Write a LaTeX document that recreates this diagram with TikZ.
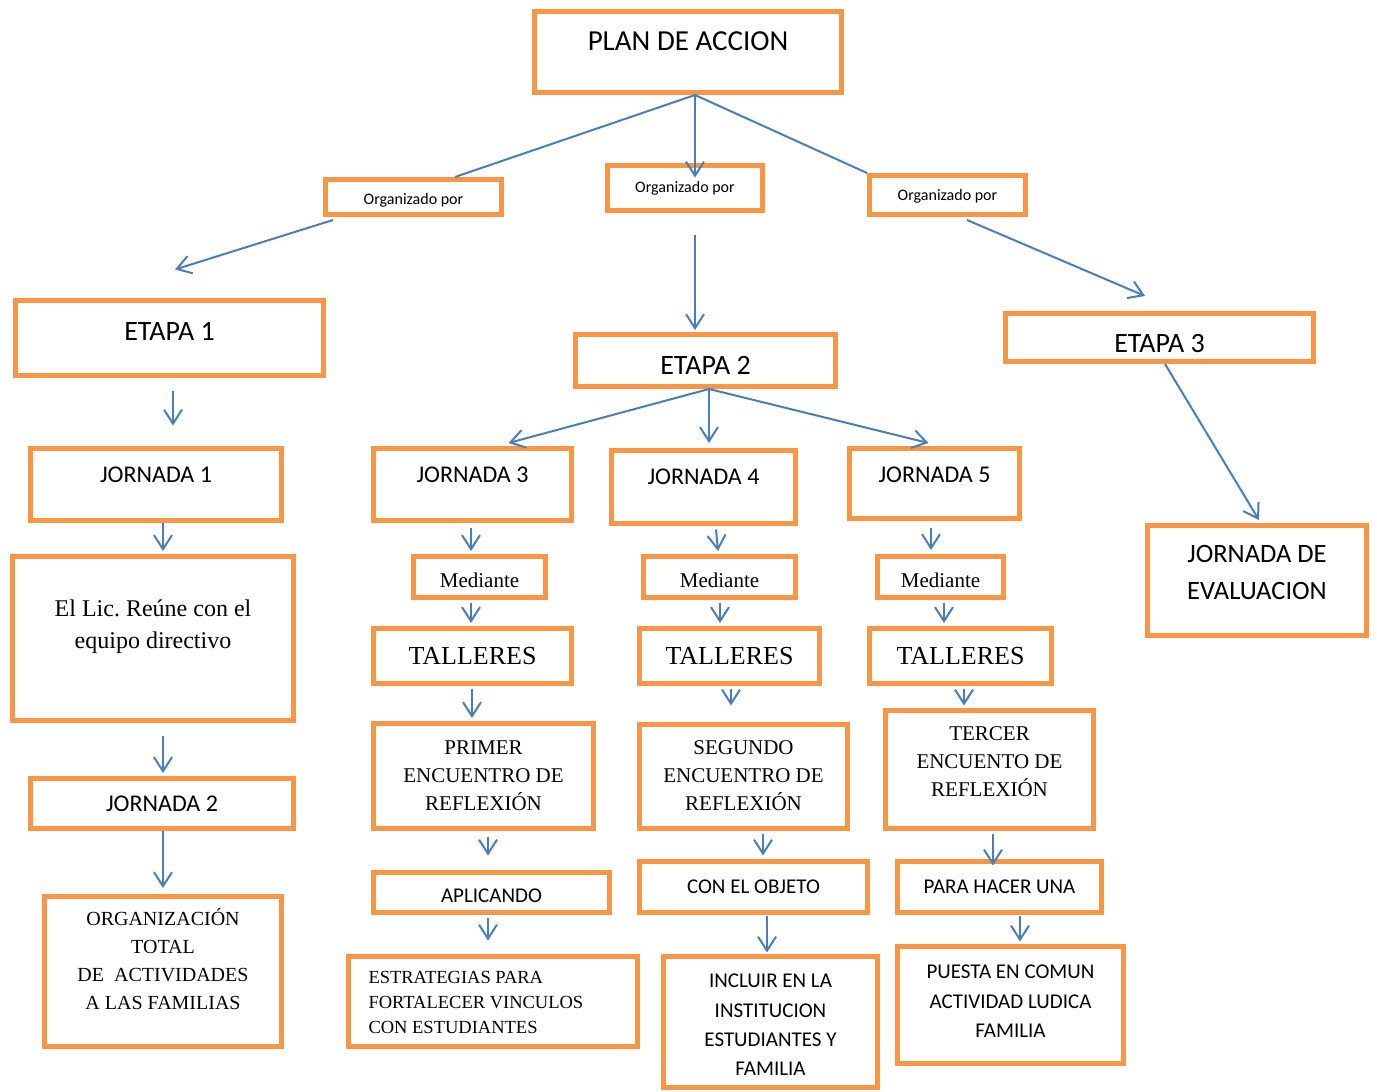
\documentclass[tikz,border=0pt]{standalone}
\usepackage{fontspec}
\setmainfont{Liberation Serif}
\newfontfamily\carlito{Carlito}
\usetikzlibrary{arrows.meta}
\usetikzlibrary{calc}
\definecolor{boxorange}{RGB}{247,150,70}
\definecolor{linkblue}{RGB}{74,126,187}

\tikzset{
  box/.style={draw=boxorange, line width=5pt, fill=white, inner xsep=4pt,
    inner ysep=0pt, align=flush center},
  boxsize/.style 2 args={minimum width=#1, minimum height=#2, text width=#1-8},
  sansfont/.style 2 args={font=\carlito\fontsize{#1}{#2}\selectfont, text height=0.644*#1},
  seriffont/.style 2 args={font=\fontsize{#1}{#2}\selectfont, text height=0.662*#1},
  link/.style={draw=linkblue, line width=2pt},
  arr/.style={link, -{Straight Barb[length=14pt,width=18pt]}},
}

\begin{document}
\begin{tikzpicture}[x=1pt,y=-1pt]
  \useasboundingbox (0,0) rectangle (1377,1092);

  % top of the plan
  \node[box, sansfont={29}{35}, boxsize={307}{81}, text depth=22] (plan) at (688,52) {PLAN DE ACCION};
  \node[box, sansfont={16}{19}, text height=0.644*16+4, boxsize={176}{35}, text depth=0] (orgL) at (413.5,197) {Organizado por};
  \node[box, sansfont={16}{19}, boxsize={155}{45}, text depth=2] (orgM) at (685,188) {Organizado por};
  \node[box, sansfont={16}{19}, boxsize={156}{39}, text depth=0] (orgR) at (947.5,195) {Organizado por};

  % etapas
  \node[box, sansfont={28}{34}, boxsize={308}{75}, text depth=14] (e1) at (169.5,338) {ETAPA 1};
  \node[box, sansfont={28}{34}, text height=0.644*28+9, boxsize={260}{52}, text depth=0] (e2) at (705.5,360.5) {ETAPA 2};
  \node[box, sansfont={28}{34}, text height=0.644*28+11, boxsize={308}{48}, text depth=0] (e3) at (1159.5,337.5) {ETAPA 3};

  % etapa 1
  \node[box, sansfont={24}{29}, boxsize={251}{72}, text depth=19] (j1) at (156,484.5) {JORNADA 1};
  \node[box, seriffont={24}{32}, boxsize={281}{164}, text depth=59] (lic) at (153,638.5)
    {El Lic.\ Reúne con el\\ equipo directivo};
  \node[box, sansfont={24}{29}, boxsize={263}{50}, text depth=0] (j2) at (162,803.5) {JORNADA 2};
  \node[box, seriffont={20}{28}, boxsize={237}{150}, text depth=105] (org) at (163,971.5)
    {ORGANIZACIÓN\\ TOTAL\\ DE~ ACTIVIDADES\\ A LAS FAMILIAS};

  % etapa 2
  \node[box, sansfont={24}{29}, boxsize={198}{72}, text depth=19] (j3) at (472.5,484.5) {JORNADA 3};
  \node[box, sansfont={24}{29}, boxsize={184}{73}, text depth=20] (j4) at (703.5,487) {JORNADA 4};
  \node[box, sansfont={24}{29}, boxsize={170}{70}, text depth=17] (j5) at (934.5,483.5) {JORNADA 5};

  \node[box, seriffont={21}{26}, text height=0.662*21+8, boxsize={132}{41}, text depth=0] (m3) at (479.5,577) {Mediante};
  \node[box, seriffont={21}{26}, text height=0.662*21+8, boxsize={152}{41}, text depth=0] (m4) at (719.5,577) {Mediante};
  \node[box, seriffont={21}{26}, text height=0.662*21+8, boxsize={126}{41}, text depth=0] (m5) at (940.5,577) {Mediante};

  \node[box, seriffont={26}{31}, boxsize={198}{55}, text depth=0] (t3) at (472.5,656) {TALLERES};
  \node[box, seriffont={26}{31}, boxsize={180}{55}, text depth=0] (t4) at (729.5,656) {TALLERES};
  \node[box, seriffont={26}{31}, boxsize={182}{55}, text depth=0] (t5) at (960.5,656) {TALLERES};

  \node[box, seriffont={21}{28}, boxsize={220}{105}, text depth=56] (p1) at (483.5,776)
    {PRIMER\\ ENCUENTRO DE\\ REFLEXIÓN};
  \node[box, seriffont={21}{28}, boxsize={208}{104}, text depth=57] (s1) at (743.5,776.5)
    {SEGUNDO\\ ENCUENTRO DE\\ REFLEXIÓN};
  \node[box, seriffont={21}{28}, boxsize={208}{118}, text depth=71] (tc) at (989.5,769.5)
    {TERCER\\ ENCUENTO DE\\ REFLEXIÓN};

  \node[box, sansfont={21}{26}, text height=0.644*21+7, boxsize={236}{40}, text depth=0] (apl) at (491.5,892.5) {APLICANDO};
  \node[box, sansfont={21}{26}, boxsize={228}{51}, text depth=0] (con) at (753.5,887) {CON EL OBJETO};
  \node[box, sansfont={21}{26}, boxsize={204}{51}, text depth=0] (para) at (999.5,887) {PARA HACER UNA};

  \node[box, seriffont={18.5}{25}, boxsize={289}{90}, text depth=49, align=flush left,
    inner xsep=20pt, text width=249] (est) at (493,1001.5)
    {ESTRATEGIAS PARA\\ FORTALECER VINCULOS\\ CON ESTUDIANTES};
  \node[box, sansfont={21}{29.3}, boxsize={214}{131}, text depth=82] (inc) at (770.5,1022)
    {INCLUIR EN LA\\ INSTITUCION\\ ESTUDIANTES Y\\ FAMILIA};
  \node[box, sansfont={21}{29.5}, boxsize={226}{117}, text depth=66] (pu) at (1010.5,1005)
    {PUESTA EN COMUN\\ ACTIVIDAD LUDICA\\ FAMILIA};

  % etapa 3
  \node[box, sansfont={26.5}{37}, boxsize={219}{110}, text depth=53] (ev) at (1257,580.5)
    {JORNADA DE\\ EVALUACION};

  % connectors
  \coordinate (hub) at ($(plan.south)+(7,0)$);
  \draw[link] (hub) -- ($(orgL.north)+(41.5,0)$);
  \draw[arr] (hub) -- ($(orgM.north)+(10,14.5)$);
  \draw[link] (hub) -- (orgR.north west);
  \draw[arr] ($(orgL.south west)+(10,3)$) -- ($(e1.north)+(5.5,-28.5)$);
  \draw[arr] ($(orgM.south)+(10,22)$) -- ($(e2.north)+(-10.5,-2)$);
  \draw[arr] ($(orgR.south)+(19.5,3)$) -- ($(e3.north)+(-14.5,-15)$);

  \draw[arr] ($(e1.south)+(3.5,12.5)$) -- ($(j1.north)+(17,-20.5)$);
  \draw[arr] ($(j1.south)+(7,0)$) -- ($(lic.north)+(10,-3)$);
  \draw[arr] ($(lic.south)+(10,12.5)$) -- ($(j2.north)+(1,-3)$);
  \draw[arr] ($(j2.south)+(1,0)$) -- ($(org.north)+(0,-6)$);

  \coordinate (hub2) at ($(e2.south)+(3.5,0)$);
  \draw[arr] (hub2) -- ($(j3.north)+(36,-3)$);
  \draw[arr] (hub2) -- ($(j4.north)+(5.5,-5)$);
  \draw[arr] (hub2) -- ($(j5.north)+(-6,-3)$);

  \draw[arr] ($(j3.south)+(-1.5,4.5)$) -- ($(m3.north)+(-8.5,-3)$);
  \draw[arr] ($(j4.south)+(12.5,3.5)$) -- ($(m4.north)+(-1.5,-3)$);
  \draw[arr] ($(j5.south)+(-3.5,6.5)$) -- ($(m5.north)+(-9.5,-4)$);
  \draw[arr] ($(m3.south)+(-8.5,2.5)$) -- ($(t3.north)+(-1.5,-3)$);
  \draw[arr] ($(m4.south)+(0.5,2.5)$) -- ($(t4.north)+(-9.5,-3)$);
  \draw[arr] ($(m5.south)+(3.5,2.5)$) -- ($(t5.north)+(-16.5,-3)$);
  \draw[arr] ($(t3.south)+(-0.5,2.5)$) -- ($(p1.north)+(-11.5,-3)$);
  \draw[arr] ($(t4.south)+(1.5,2.5)$) -- ($(s1.north)+(-12.5,-16.5)$);
  \draw[arr] ($(t5.south)+(3.5,2.5)$) -- ($(tc.north)+(-25.5,-2.5)$);
  \draw[arr] ($(p1.south)+(4.5,5.5)$) -- ($(apl.north)+(-3.5,-14.5)$);
  \draw[arr] ($(s1.south)+(19.5,2.5)$) -- ($(con.north)+(9.5,-3.5)$);
  \draw[arr] ($(tc.south)+(3.5,2.5)$) -- ($(para.north)+(-6.5,6.5)$);
  \draw[arr] ($(apl.south)+(-3.5,2.5)$) -- ($(est.north)+(-5,-13.5)$);
  \draw[arr] ($(con.south)+(13.5,0.5)$) -- ($(inc.north)+(-3.5,-1.5)$);
  \draw[arr] ($(para.south)+(20.5,0.5)$) -- ($(pu.north)+(9.5,-2.5)$);

  \draw[arr] ($(e3.south)+(5.5,0)$) -- ($(ev.north)+(2,-3)$);
\end{tikzpicture}
\end{document}
